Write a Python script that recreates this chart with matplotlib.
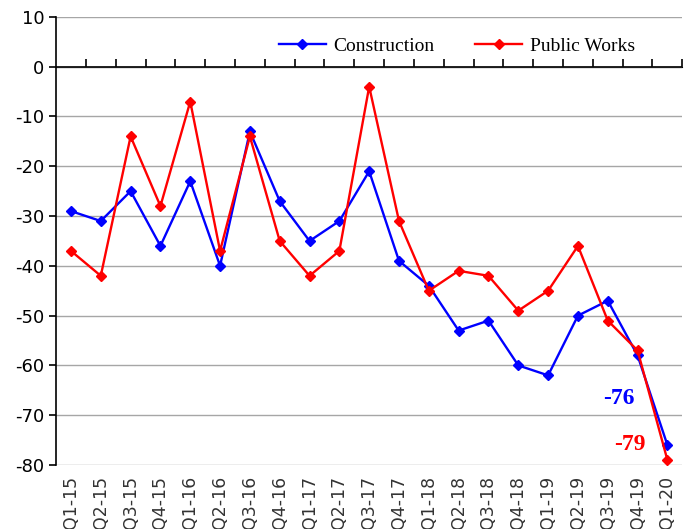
import matplotlib.pyplot as plt
import numpy as np

plt.rcParams["axes.unicode_minus"] = False

quarters = ["Q1-15", "Q2-15", "Q3-15", "Q4-15", "Q1-16", "Q2-16", "Q3-16",
            "Q4-16", "Q1-17", "Q2-17", "Q3-17", "Q4-17", "Q1-18", "Q2-18",
            "Q3-18", "Q4-18", "Q1-19", "Q2-19", "Q3-19", "Q4-19", "Q1-20"]
construction = [-29, -31, -25, -36, -23, -40, -13, -27, -35, -31, -21, -39,
                -44, -53, -51, -60, -62, -50, -47, -58, -76]
public_works = [-37, -42, -14, -28, -7, -37, -14, -35, -42, -37, -4, -31,
                -45, -41, -42, -49, -45, -36, -51, -57, -79]

x = np.arange(len(quarters))

fig = plt.figure(figsize=(6.92, 5.29), dpi=100)
ax = fig.add_axes([0.081, 0.121, 0.905, 0.847])

ax.plot(x, construction, color="#0000ff", lw=1.7, marker="D", ms=5.5,
        label="Construction", zorder=3)
ax.plot(x, public_works, color="#ff0000", lw=1.7, marker="D", ms=5.5,
        label="Public Works", zorder=3)

ax.set_ylim(-80, 10)
ax.set_xlim(-0.5, len(quarters) - 0.5)
ax.set_yticks(np.arange(-80, 11, 10))
ax.grid(axis="y", color="#a6a6a6", lw=1)
ax.set_axisbelow(True)

for s in ["top", "right", "bottom"]:
    ax.spines[s].set_visible(False)
ax.spines["left"].set_linewidth(1.2)

ax.set_xticks(x)
ax.set_xticklabels(quarters, rotation=90, fontsize=12.5, color="#333333")
ax.tick_params(axis="x", length=0, pad=8)
ax.tick_params(axis="y", labelsize=13, length=5, width=1.2, direction="out")

# zero line with category boundary ticks
ax.axhline(0, color="black", lw=1.2, zorder=2)
zero = ax.secondary_xaxis((0 - (-80)) / 90.0)
zero.set_xticks(x + 0.5)
zero.set_xticklabels([])
zero.tick_params(direction="out", length=6, width=1.2)

ax.text(x[-1] - 2.15, construction[-1] + 9.3, str(construction[-1]),
        color="#0000ff", fontsize=17, fontweight="bold", family="Liberation Serif",
        va="center")
ax.text(x[-1] - 1.8, public_works[-1] + 3.2, str(public_works[-1]),
        color="#ff0000", fontsize=17, fontweight="bold", family="Liberation Serif",
        va="center")

ax.legend(loc="center", bbox_to_anchor=(0.64, 0.935), ncol=2, frameon=False,
          prop={"family": "Liberation Serif", "size": 14}, handlelength=2.4,
          handletextpad=0.4, columnspacing=2.1)

fig.savefig("out.png", dpi=100)
